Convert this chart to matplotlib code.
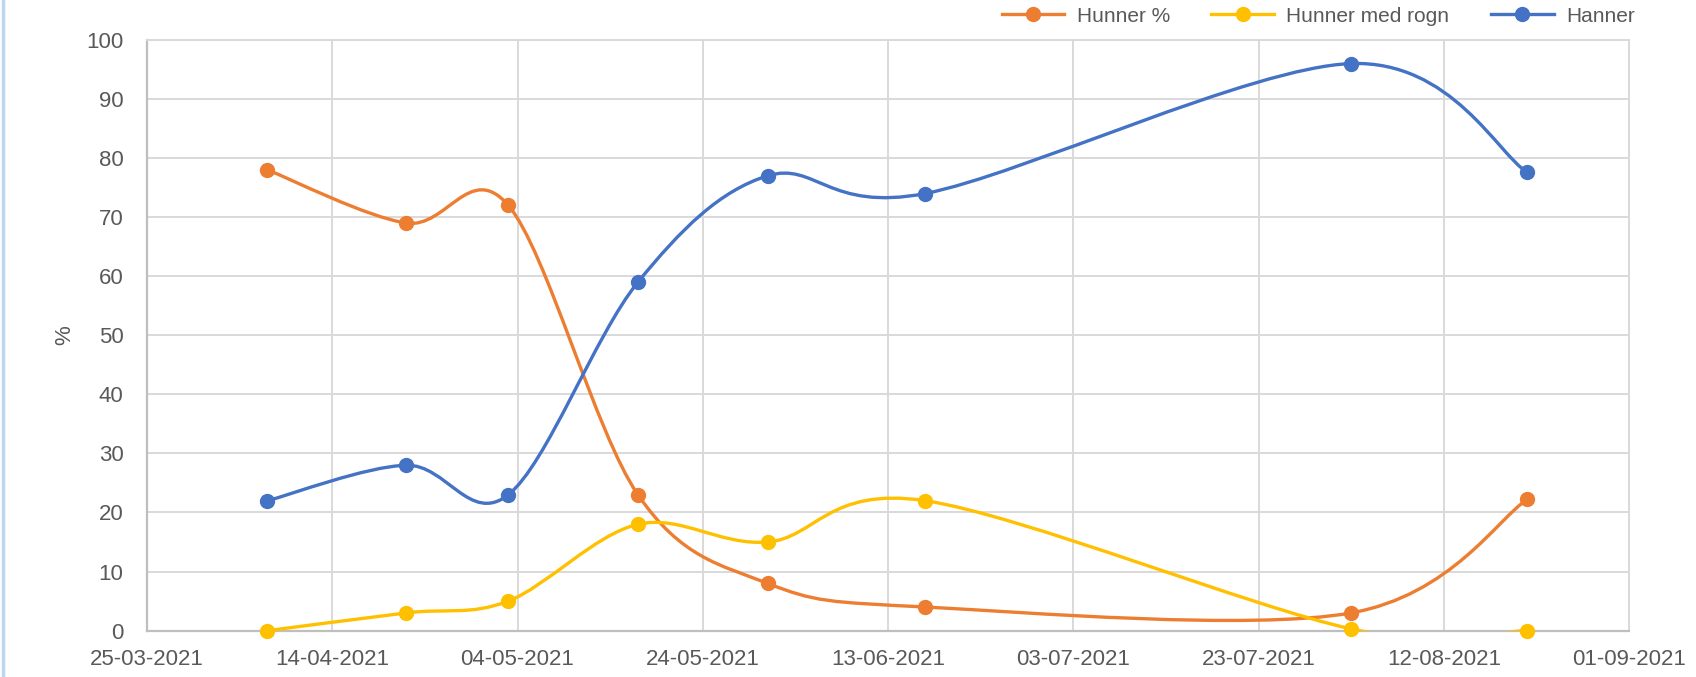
import matplotlib
matplotlib.use('Agg')
import matplotlib.pyplot as plt
import matplotlib.dates as mdates
from matplotlib.path import Path
from matplotlib.patches import PathPatch
from matplotlib.lines import Line2D
import datetime as dt

# ---- data ----
sample_dates = ['2021-04-07', '2021-04-22', '2021-05-03', '2021-05-17',
                '2021-05-31', '2021-06-17', '2021-08-02', '2021-08-21']
hunner_pct = [78, 69, 72, 23, 8, 4, 3, 22.2]
hunner_rogn = [0, 3, 5, 18, 15, 22, 0.3, 0]
hanner = [22, 28, 23, 59, 77, 74, 96, 77.6]
series_names = ['Hunner %', 'Hunner med rogn', 'Hanner']
tick_dates = ['2021-03-25', '2021-04-14', '2021-05-04', '2021-05-24', '2021-06-13',
              '2021-07-03', '2021-07-23', '2021-08-12', '2021-09-01']
y_ticks = [0, 10, 20, 30, 40, 50, 60, 70, 80, 90, 100]

colors = ['#ED7D31', '#FFC000', '#4472C4']


def to_num(s):
    return mdates.date2num(dt.datetime.strptime(s, '%Y-%m-%d'))


xs = [to_num(d) for d in sample_dates]


def smooth_path(x, y):
    pts = list(zip(x, y))
    n = len(pts)
    verts = [pts[0]]
    codes = [Path.MOVETO]
    for i in range(n - 1):
        p0 = pts[i - 1] if i > 0 else pts[i]
        p1 = pts[i]
        p2 = pts[i + 1]
        p3 = pts[i + 2] if i + 2 < n else pts[i + 1]
        c1 = (p1[0] + (p2[0] - p0[0]) / 6.0, p1[1] + (p2[1] - p0[1]) / 6.0)
        c2 = (p2[0] - (p3[0] - p1[0]) / 6.0, p2[1] - (p3[1] - p1[1]) / 6.0)
        verts += [c1, c2, p2]
        codes += [Path.CURVE4] * 3
    return Path(verts, codes)


plt.rcParams['font.family'] = ['Liberation Sans', 'DejaVu Sans']

fig = plt.figure(figsize=(16.96, 6.77), dpi=100)
ax = fig.add_axes([0.0867, 0.0685, 0.8738, 0.8725])

grid_c = '#D9D9D9'
ax.set_xlim(to_num(tick_dates[0]), to_num(tick_dates[-1]))
ax.set_ylim(0, 100)
ax.set_xticks([to_num(t) for t in tick_dates])
ax.set_xticklabels([dt.datetime.strptime(t, '%Y-%m-%d').strftime('%d-%m-%Y') for t in tick_dates])
ax.set_yticks(y_ticks)
ax.grid(True, color=grid_c, linewidth=1.4)
ax.set_axisbelow(True)
for side in ['top', 'right']:
    ax.spines[side].set_color(grid_c)
    ax.spines[side].set_linewidth(1.4)
ax.spines['left'].set_color('#BFBFBF')
ax.spines['left'].set_linewidth(1.6)
ax.spines['bottom'].set_color('#BFBFBF')
ax.spines['bottom'].set_linewidth(1.6)
ax.tick_params(axis='both', length=0, colors='#595959', labelsize=16)
ax.tick_params(axis='x', pad=13)
ax.tick_params(axis='y', pad=17)
ax.set_ylabel('%', color='#595959', fontsize=16, labelpad=8)

handles = []
for vals, c, name in zip([hunner_pct, hunner_rogn, hanner], colors, series_names):
    patch = PathPatch(smooth_path(xs, vals), facecolor='none', edgecolor=c,
                      linewidth=2.4, zorder=3, capstyle='round', joinstyle='round')
    ax.add_patch(patch)
    ax.plot(xs, vals, linestyle='none', marker='o', markersize=10, color=c,
            zorder=4, clip_on=False)
    handles.append(Line2D([], [], color=c, linewidth=2.4, marker='o', markersize=10, label=name))

fig.legend(handles=handles, loc='upper right', bbox_to_anchor=(0.975, 1.018), ncol=3,
           frameon=False, fontsize=15, labelcolor='#595959', handlelength=3.0,
           columnspacing=2.0, handletextpad=0.6)

fig.add_artist(Line2D([0.0015, 0.0015], [0, 1], transform=fig.transFigure,
                      color='#BDD7EE', linewidth=2.5))

fig.savefig('out.png', dpi=100)
